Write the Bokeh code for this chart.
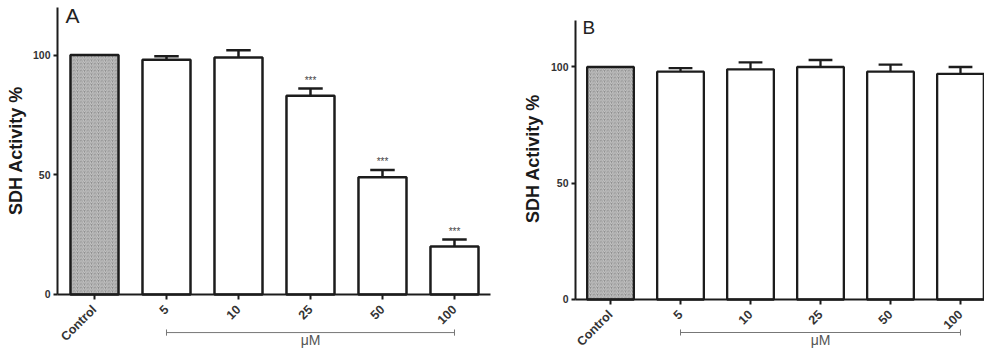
import numpy as np
from bokeh.plotting import figure
from bokeh.models import Range1d, LinearAxis, FixedTicker, ColumnDataSource
from bokeh.layouts import row
from bokeh.embed import file_html
from bokeh.resources import INLINE
from bokeh.core.properties import value

# ---- data ----
categories = ["Control", "5", "10", "25", "50", "100"]
values_a = [100, 98, 99, 83, 49, 20]
errors_a = [0, 1.5, 3, 3, 3, 3]
stars_a = ["", "", "", "***", "***", "***"]
values_b = [100, 98, 99, 100, 98, 97]
errors_b = [0, 1.5, 3, 3, 3, 3]
stars_b = ["", "", "", "", "", ""]
y_ticks = [0, 50, 100]
unit_label = "μM"
y_label = "SDH Activity %"

FONT = "Liberation Sans"
INK = "#1c1c1c"


def make_panel(letter, vals, errs, stars, width, height, xr, yr, axis_x, axis_x_end,
               ylabel_xy, letter_xy, letter_size, bracket_y, unit_y, bar_lw):
    idx = list(range(len(categories)))
    p = figure(width=width, height=height, title=None,
               x_range=Range1d(*xr), y_range=Range1d(*yr),
               output_backend="svg", toolbar_location=None,
               x_axis_location=None, y_axis_location=None,
               min_border_left=0, min_border_right=0,
               min_border_top=0, min_border_bottom=0)
    p.outline_line_color = None
    p.grid.visible = False
    p.background_fill_color = "white"
    p.border_fill_color = "white"

    yaxis = LinearAxis(ticker=FixedTicker(ticks=y_ticks), bounds=(0, 120),
                       fixed_location=axis_x)
    yaxis.axis_line_width = 2
    yaxis.axis_line_color = INK
    yaxis.major_tick_line_width = 2
    yaxis.major_tick_line_color = INK
    yaxis.major_tick_out = 4
    yaxis.major_tick_in = 0
    yaxis.minor_tick_line_color = None
    yaxis.major_label_standoff = 3
    yaxis.major_label_text_font = FONT
    yaxis.major_label_text_font_style = "bold"
    yaxis.major_label_text_font_size = "10.5px"
    yaxis.major_label_text_color = "#333333"
    p.add_layout(yaxis, "left")

    xaxis = LinearAxis(ticker=FixedTicker(ticks=idx),
                       major_label_overrides={i: c for i, c in enumerate(categories)},
                       bounds=(axis_x, axis_x_end), fixed_location=0)
    xaxis.major_label_orientation = np.pi / 4
    xaxis.axis_line_width = 2
    xaxis.axis_line_color = INK
    xaxis.major_tick_line_width = 2
    xaxis.major_tick_line_color = INK
    xaxis.major_tick_out = 5
    xaxis.major_tick_in = 0
    xaxis.minor_tick_line_color = None
    xaxis.major_label_standoff = 8
    xaxis.major_label_text_font = FONT
    xaxis.major_label_text_font_style = "bold"
    xaxis.major_label_text_font_size = "12.5px"
    xaxis.major_label_text_color = "#333333"
    p.add_layout(xaxis, "below")

    # y axis title (real text, rotated)
    p.text(x=[ylabel_xy[0]], y=[ylabel_xy[1]], text=[y_label], angle=np.pi / 2,
           text_align="center", text_baseline="middle", text_font=value(FONT),
           text_font_style="bold", text_font_size="18px", text_color="#1a1a1a")

    src = ColumnDataSource(dict(
        x=idx, top=vals,
        fill=["#8c8c8c" if i == 0 else "white" for i in idx],
        hatch=["/" if i == 0 else " " for i in idx],
    ))
    p.vbar(x="x", top="top", bottom=0, width=0.667, source=src,
           fill_color="fill", hatch_pattern="hatch", hatch_color="#cacaca",
           hatch_scale=3.5, hatch_weight=1,
           line_color=INK, line_width=bar_lw)

    ex = [i for i in idx if errs[i] > 0]
    ey0 = [vals[i] for i in ex]
    ey1 = [vals[i] + errs[i] for i in ex]
    p.segment(x0=ex, y0=ey0, x1=ex, y1=ey1, line_color=INK, line_width=bar_lw)
    p.segment(x0=[x - 0.17 for x in ex], y0=ey1, x1=[x + 0.17 for x in ex], y1=ey1,
              line_color=INK, line_width=bar_lw)

    sx = [i for i in idx if stars[i]]
    if sx:
        p.text(x=sx, y=[vals[i] + errs[i] + 3.5 for i in sx], text=[stars[i] for i in sx],
               text_align="center", text_baseline="middle",
               text_font=value(FONT), text_font_size="10px", text_color="#444444")

    # concentration bracket
    last = len(categories) - 1
    p.segment(x0=[1], y0=[bracket_y], x1=[last], y1=[bracket_y],
              line_color="#777777", line_width=1)
    p.segment(x0=[1, last], y0=[bracket_y - 1.3] * 2,
              x1=[1, last], y1=[bracket_y + 1.3] * 2,
              line_color="#777777", line_width=1)
    p.text(x=[3], y=[unit_y], text=[unit_label], text_align="center",
           text_baseline="middle", text_font=value(FONT), text_font_size="14px",
           text_color="#555555")

    p.text(x=[letter_xy[0]], y=[letter_xy[1]], text=[letter], text_align="left",
           text_baseline="middle", text_font=value(FONT), text_font_size=letter_size,
           text_color="#222222")
    return p


# panel A: 72 px per category, 2.395 px per % ; panel B: 70 px, 2.325 px
pa = make_panel("A", values_a, errors_a, stars_a, width=492, height=348,
                xr=(-1.3056, 5.528), yr=(-22.55, 122.76),
                axis_x=-0.514, axis_x_end=5.5,
                ylabel_xy=(-1.097, 60.1), letter_xy=(-0.403, 116.7), letter_size="21px",
                bracket_y=-15.9, unit_y=-19.2, bar_lw=2.5)
pb = make_panel("B", values_b, errors_b, stars_b, width=492, height=348,
                xr=(-1.686, 5.343), yr=(-21.08, 128.6),
                axis_x=-0.5, axis_x_end=5.343,
                ylabel_xy=(-1.114, 60.6), letter_xy=(-0.4, 117.2), letter_size="19px",
                bracket_y=-14.2, unit_y=-17.6, bar_lw=2.3)

layout = row(pa, pb)
open("out.html", "w").write(file_html(layout, INLINE))
